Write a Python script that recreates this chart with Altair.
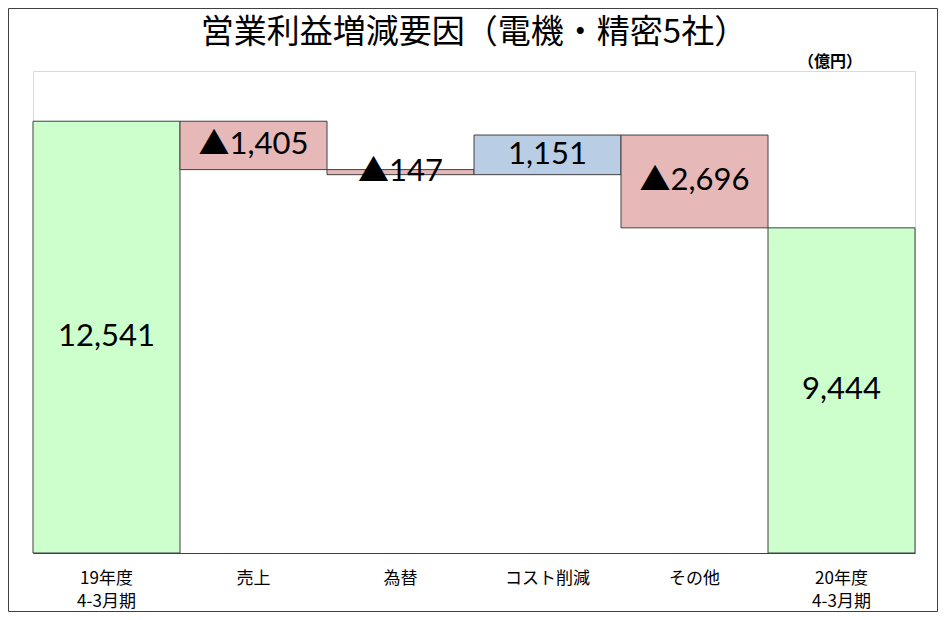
import altair as alt
import pandas as pd

categories = ["19年度\n4-3月期", "売上", "為替", "コスト削減", "その他", "20年度\n4-3月期"]
changes = [12541, -1405, -147, 1151, -2696, 9444]
kinds = ["total", "neg", "neg", "pos", "neg", "total"]
labels = ["12,541", "▲1,405", "▲147", "1,151", "▲2,696", "9,444"]

title_text = "営業利益増減要因（電機・精密5社）"
unit_text = "（億円）"

starts, ends = [], []
running = 0
for v, k in zip(changes, kinds):
    if k == "total":
        starts.append(0)
        ends.append(v)
        running = v
    else:
        starts.append(running)
        running += v
        ends.append(running)

df = pd.DataFrame({
    "cat": categories,
    "start": starts,
    "end": ends,
    "kind": kinds,
    "label": labels,
})
df["mid"] = (df["start"] + df["end"]) / 2

W, H = 882, 482
PL, PT, PR, PB = 25, 63, 23, 59

x = alt.X("cat:N", sort=categories, title=None,
          scale=alt.Scale(paddingInner=0, paddingOuter=0),
          axis=alt.Axis(labelExpr="split(datum.value, '\\n')", labelAngle=0,
                        labelFont="Noto Sans CJK JP", labelFontSize=17,
                        labelColor="#000000", labelLineHeight=23,
                        labelPadding=17, ticks=False, domainColor="#404040",
                        domainWidth=1, grid=False))
yscale = alt.Scale(domain=[0, 14000], nice=False, zero=True)

base = alt.Chart(df)

bars = base.mark_bar(stroke="#404040", strokeWidth=1).encode(
    x=x,
    y=alt.Y("start:Q", scale=yscale, axis=None),
    y2="end:Q",
    color=alt.Color("kind:N", legend=None,
                    scale=alt.Scale(domain=["total", "neg", "pos"],
                                    range=["#CCFFCC", "#E6B9B8", "#B9CDE5"])),
)

texts = base.mark_text(font="Lato, 'Noto Sans CJK JP'", fontSize=31, color="#000000",
                       baseline="middle", align="center").encode(
    x=alt.X("cat:N", sort=categories),
    y=alt.Y("mid:Q", scale=yscale),
    text="label:N",
)

one = alt.Chart(pd.DataFrame({"t": [title_text], "u": [unit_text]}))

title = one.mark_text(font="Noto Sans CJK JP", fontSize=33, color="#000000",
                      baseline="middle", align="center").encode(
    x=alt.value(W / 2), y=alt.value(-38), text="t:N")

unit = one.mark_text(font="Noto Sans CJK JP", fontSize=16, fontWeight="bold",
                     color="#000000", baseline="middle", align="center").encode(
    x=alt.value(797), y=alt.value(-9), text="u:N")

frame = one.mark_rect(fill=None, stroke="#404040", strokeWidth=1).encode(
    x=alt.value(-PL + 0.5), x2=alt.value(W + PR - 0.5),
    y=alt.value(-PT + 0.5), y2=alt.value(H + PB - 0.5))

chart = alt.layer(bars, texts, title, unit, frame).properties(
    width=W, height=H,
    autosize=alt.AutoSizeParams(type="none"),
    padding={"left": PL, "top": PT, "right": PR, "bottom": PB},
    background="white",
).configure_view(stroke="#D9D9D9", strokeWidth=1)

chart.save("out.html", embed_options={"renderer": "svg", "actions": False})
